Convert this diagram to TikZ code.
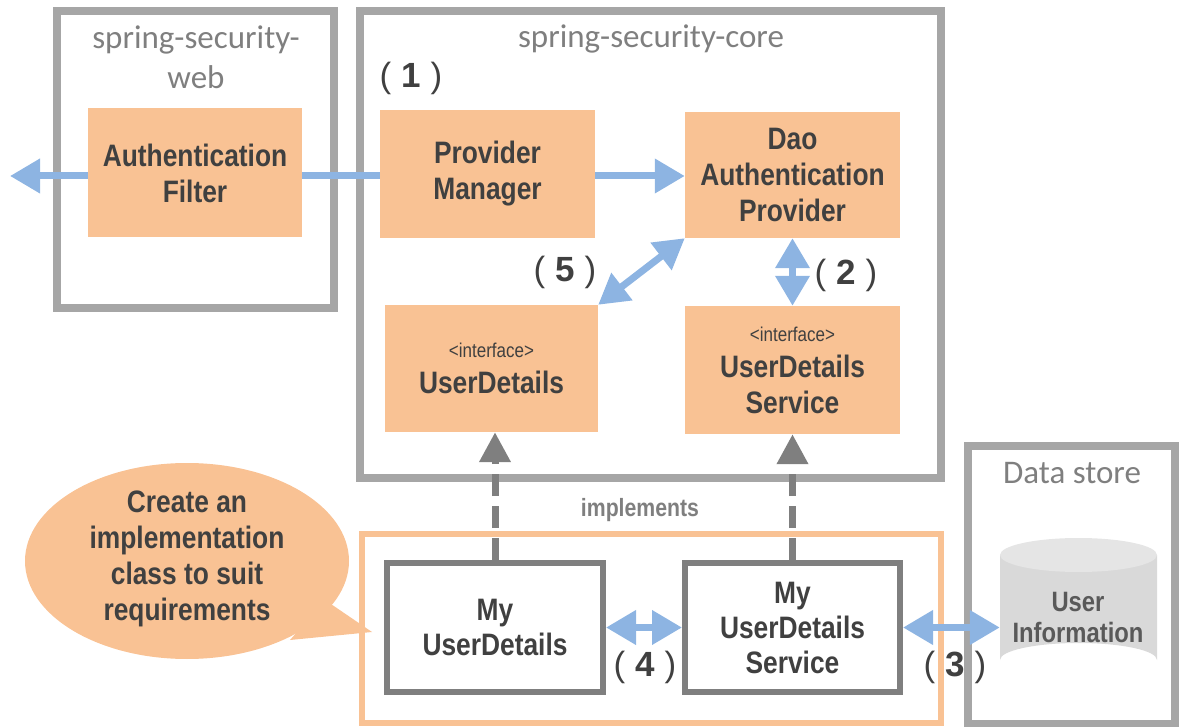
\documentclass[tikz,border=0pt]{standalone}
\usepackage{fontspec}
\setmainfont{Carlito}
\newfontfamily\boxfont[FakeStretch=0.85]{Liberation Sans}
\newfontfamily\parenfont{Liberation Sans}
\usetikzlibrary{arrows.meta}
\definecolor{peach}{HTML}{F9C294}
\definecolor{bluearr}{HTML}{8DB4E2}
\definecolor{contgray}{HTML}{A6A6A6}
\definecolor{darkbox}{HTML}{7F7F7F}
\definecolor{txtdark}{HTML}{404040}
\definecolor{lbl}{HTML}{7F7F7F}
\newcommand{\pnum}[1]{{\parenfont\fontsize{35}{35}\selectfont (}\hspace{10pt}{\parenfont\bfseries\fontsize{35}{35}\selectfont #1}\hspace{10pt}{\parenfont\fontsize{35}{35}\selectfont )}}
\tikzset{
  container/.style={draw=contgray, line width=8pt, fill=none, inner sep=0pt},
  clabel/.style={text=lbl, font=\fontsize{33}{40}\selectfont, align=center, inner sep=0pt},
  pbox/.style={fill=peach, draw=none, text=txtdark, align=center, inner sep=0pt,
    font=\boxfont\bfseries\fontsize{31}{36}\selectfont},
  wbox/.style={fill=white, draw=darkbox, line width=6pt, text=txtdark, align=center, inner sep=0pt,
    font=\boxfont\bfseries\fontsize{31}{35}\selectfont},
  num/.style={text=txtdark, inner sep=0pt},
  barrow/.style={draw=bluearr, line width=7pt, -{Triangle[length=30pt,width=33pt]}},
  bdouble/.style={draw=bluearr, line width=7pt, {Triangle[length=30pt,width=33pt]}-{Triangle[length=30pt,width=33pt]}},
  garrow/.style={draw=darkbox, line width=7pt, dash pattern=on 22pt off 10pt, -{Triangle[length=30pt,width=30pt]}},
}
\begin{document}
\begin{tikzpicture}[x=1pt,y=-1pt]
\useasboundingbox (0,0) rectangle (1179,727);
% containers
\node[container, minimum width=277pt, minimum height=297pt] (web) at (195.5,159.5) {};
\node[container, minimum width=581pt, minimum height=467pt] (core) at (650.5,244.5) {};
\node[container, minimum width=207pt, minimum height=278pt] (store) at (1071.5,585) {};
\node[draw=peach, line width=6pt, minimum width=579pt, minimum height=189pt, inner sep=0pt] (impl) at (651.5,628.5) {};
% container labels
\node[clabel] (weblbl) at (196,57) {spring-security-\\web};
\node[clabel] (corelbl) at (651,39) {spring-security-core};
\node[clabel] (storelbl) at (1072,473) {Data store};
\node[text=lbl, inner sep=0pt, font=\boxfont\bfseries\fontsize{25}{25}\selectfont] (impllbl) at (640,510) {implements};
% peach boxes
\node[pbox, minimum width=214pt, minimum height=129pt] (af) at (195,173) {Authentication\\Filter};
\node[pbox, minimum width=215pt, minimum height=128pt] (pm) at (487.5,174) {Provider\\Manager};
\node[pbox, minimum width=215pt, minimum height=126pt] (dap) at (792.5,175) {Dao\\Authentication\\Provider};
\node[pbox, minimum width=213pt, minimum height=127pt] (ud) at (491.5,368.5)
  {{\fontseries{m}\fontsize{20}{24}\selectfont <interface>}\\UserDetails};
\node[pbox, minimum width=215pt, minimum height=128pt] (uds) at (792.5,370)
  {{\fontseries{m}\fontsize{20}{24}\selectfont <interface>}\\UserDetails\\Service};
% white boxes
\node[wbox, minimum width=216pt, minimum height=129pt] (myud) at (495,627.5) {My\\UserDetails};
\node[wbox, minimum width=215pt, minimum height=129pt] (myuds) at (792.5,627.5) {My\\UserDetails\\Service};
% cylinder
\fill[fill=black!15] (1000,555) -- (1000,660) arc[start angle=180, end angle=360, x radius=78.5, y radius=17] -- (1157,555) -- cycle;
\fill[fill=black!10] (1078.5,555) ellipse[x radius=78.5, y radius=17];
\node[minimum width=157pt, minimum height=139pt, inner sep=0pt] (cyl) at (1078.5,607.5) {};
\node[text=black!65, align=center, inner sep=0pt, font=\boxfont\bfseries\fontsize{28}{31}\selectfont] (cyltxt) at (1078,618) {User\\Information};
% callout
\fill[peach] (187,561) ellipse[x radius=162, y radius=98];
\fill[peach] (325,600) -- (372,632) -- (290,640) -- cycle;
\node[text=txtdark, align=center, inner sep=0pt, font=\boxfont\bfseries\fontsize{31}{36}\selectfont] (callout) at (187,559)
  {Create an\\implementation\\class to suit\\requirements};
% numbers
\node[num] (n1) at (411,78) {\pnum{1}};
\node[num] (n5) at (565,272) {\pnum{5}};
\node[num] (n2) at (846,275) {\pnum{2}};
\node[num] (n4) at (645,667) {\pnum{4}};
\node[num] (n3) at (955,667) {\pnum{3}};
% connectors
\coordinate (tipL) at (10,176);
\draw[barrow] (af.west |- tipL) -- (tipL);
\draw[draw=bluearr, line width=7pt] (af.east |- tipL) -- (pm.west |- tipL);
\draw[barrow] (pm.east |- tipL) -- (dap.west |- tipL);
\draw[bdouble] (ud.north east) -- (dap.south west);
\draw[bdouble] (dap.south) -- (uds.north);
\draw[bdouble] (myud.east) -- (myuds.west);
\draw[bdouble] (myuds.east) -- (myuds.east -| cyl.west);
\draw[garrow] (myud.north) -- (myud.north |- ud.south);
\draw[garrow] (myuds.north) -- (uds.south);
\end{tikzpicture}
\end{document}
